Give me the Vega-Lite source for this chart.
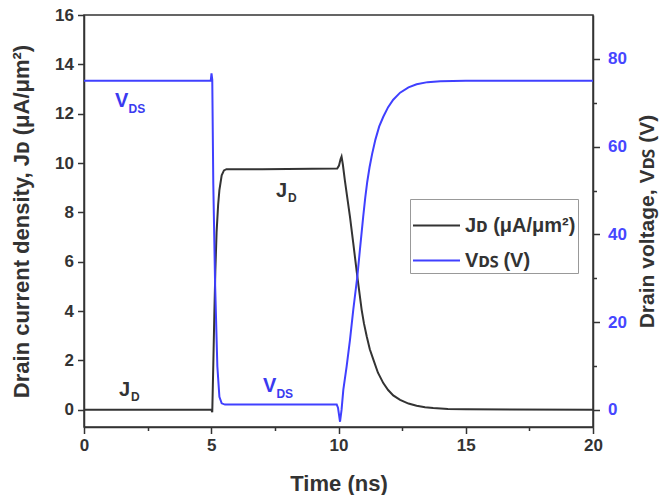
{
  "$schema": "https://vega.github.io/schema/vega-lite/v6.json",
  "width": 509,
  "height": 412,
  "autosize": {"type": "none"},
  "padding": {"left": 84, "top": 15, "right": 66, "bottom": 68},
  "background": "white",
  "config": {
    "view": {"stroke": "#333", "strokeWidth": 1.5},
    "font": "Liberation Sans",
    "axis": {
      "grid": false,
      "domainColor": "#333",
      "domainWidth": 1.5,
      "tickColor": "#333",
      "tickWidth": 1.5,
      "labelFont": "Liberation Sans",
      "labelFontWeight": "bold",
      "labelFontSize": 17,
      "labelColor": "#333",
      "labelPadding": 4,
      "labelOverlap": false,
      "labelFlush": false,
      "titleFont": "Liberation Sans",
      "titleFontWeight": "bold",
      "titleFontSize": 22,
      "titleColor": "#333"
    }
  },
  "datasets": {
    "jd": [
      {"t": 0, "j": 0}, {"t": 5.0, "j": 0}, {"t": 5.04, "j": -0.1}, {"t": 5.08, "j": 1.8},
      {"t": 5.12, "j": 3.8}, {"t": 5.16, "j": 5.6}, {"t": 5.21, "j": 7.2}, {"t": 5.27, "j": 8.3},
      {"t": 5.32, "j": 8.9}, {"t": 5.41, "j": 9.5}, {"t": 5.5, "j": 9.7}, {"t": 5.6, "j": 9.75},
      {"t": 7.0, "j": 9.75}, {"t": 9.95, "j": 9.78}, {"t": 10.02, "j": 9.9}, {"t": 10.08, "j": 10.15},
      {"t": 10.12, "j": 10.26}, {"t": 10.17, "j": 9.95}, {"t": 10.25, "j": 9.3}, {"t": 10.32, "j": 8.78},
      {"t": 10.45, "j": 7.83}, {"t": 10.58, "j": 6.75}, {"t": 10.74, "j": 5.4}, {"t": 10.91, "j": 4.05},
      {"t": 11.0, "j": 3.5}, {"t": 11.11, "j": 2.97}, {"t": 11.23, "j": 2.45}, {"t": 11.37, "j": 2.03},
      {"t": 11.55, "j": 1.5}, {"t": 11.76, "j": 1.08}, {"t": 11.95, "j": 0.8}, {"t": 12.15, "j": 0.58},
      {"t": 12.42, "j": 0.4}, {"t": 12.75, "j": 0.25}, {"t": 13.07, "j": 0.16}, {"t": 13.4, "j": 0.1},
      {"t": 13.72, "j": 0.07}, {"t": 14.3, "j": 0.03}, {"t": 15.0, "j": 0.015}, {"t": 20.0, "j": 0}
    ],
    "vds": [
      {"t": 0, "v": 75}, {"t": 4.98, "v": 75}, {"t": 5.01, "v": 76.7}, {"t": 5.04, "v": 75.2},
      {"t": 5.08, "v": 51.6}, {"t": 5.15, "v": 28.9}, {"t": 5.24, "v": 9.9}, {"t": 5.32, "v": 3.0},
      {"t": 5.41, "v": 1.5}, {"t": 5.54, "v": 1.2}, {"t": 7.0, "v": 1.2}, {"t": 9.93, "v": 1.2},
      {"t": 9.98, "v": 0.5}, {"t": 10.06, "v": -2.7}, {"t": 10.12, "v": 0}, {"t": 10.19, "v": 4.6},
      {"t": 10.32, "v": 9.9}, {"t": 10.45, "v": 15.9}, {"t": 10.58, "v": 22.8}, {"t": 10.74, "v": 30.4},
      {"t": 10.84, "v": 36.4}, {"t": 10.97, "v": 44}, {"t": 11.05, "v": 48.3}, {"t": 11.13, "v": 52.0},
      {"t": 11.22, "v": 55.3}, {"t": 11.32, "v": 58.3}, {"t": 11.45, "v": 61.6}, {"t": 11.6, "v": 64.6},
      {"t": 11.76, "v": 66.8}, {"t": 11.95, "v": 69.0}, {"t": 12.15, "v": 70.7}, {"t": 12.42, "v": 72.3},
      {"t": 12.75, "v": 73.5}, {"t": 13.07, "v": 74.2}, {"t": 13.5, "v": 74.7}, {"t": 14.0, "v": 74.9},
      {"t": 15.0, "v": 75}, {"t": 20.0, "v": 75}
    ],
    "ann": [
      {"series": "V", "t": 1.22, "j": 12.28, "main": "V", "sub": "DS"},
      {"series": "V", "t": 7.03, "j": 0.73, "main": "V", "sub": "DS"},
      {"series": "J", "t": 1.38, "j": 0.57, "main": "J", "sub": "D"},
      {"series": "J", "t": 7.54, "j": 8.63, "main": "J", "sub": "D"}
    ]
  },
  "layer": [
    {
      "layer": [
        {
          "data": {"name": "jd"},
          "mark": {"type": "line", "strokeWidth": 2},
          "encoding": {
            "x": {
              "field": "t", "type": "quantitative",
              "scale": {"domain": [0, 20], "nice": false, "zero": false},
              "axis": {
                "values": [0, 2.5, 5, 7.5, 10, 12.5, 15, 17.5, 20],
                "labelExpr": "datum.value % 5 === 0 ? datum.label : ''",
                "tickSize": {"condition": {"test": "datum.value % 5 !== 0", "value": 3.5}, "value": 6.5},
                "title": "Time (ns)",
                "titlePadding": 20
              }
            },
            "y": {
              "field": "j", "type": "quantitative",
              "scale": {"domain": [-0.7, 16], "nice": false, "zero": false},
              "axis": {
                "values": [0, 1, 2, 3, 4, 5, 6, 7, 8, 9, 10, 11, 12, 13, 14, 15, 16],
                "labelExpr": "datum.value % 2 === 0 ? datum.label : ''",
                "tickSize": {"condition": {"test": "datum.value % 2 !== 0", "value": 3.5}, "value": 6.5},
                "title": "Drain current density, Jᴅ (μA/μm²)",
                "titlePadding": 21
              }
            },
            "color": {
              "datum": "Jᴅ (μA/μm²)",
              "type": "nominal",
              "scale": {"domain": ["Jᴅ (μA/μm²)", "Vᴅꜱ (V)"], "range": ["#333333", "#4040ff"]},
              "legend": {
                "orient": "none",
                "legendX": 326,
                "legendY": 184,
                "title": null,
                "symbolType": "stroke",
                "symbolSize": 2209,
                "symbolStrokeWidth": 2,
                "labelFont": "Liberation Sans",
                "labelFontSize": 20,
                "labelFontWeight": "bold",
                "labelColor": "#333",
                "labelLimit": 400,
                "labelOffset": 4,
                "rowPadding": -13,
                "padding": 2,
                "strokeColor": "#999",
                "fillColor": "white"
              }
            }
          }
        },
        {
          "data": {"name": "ann"},
          "transform": [{"filter": "datum.series === 'J'"}],
          "mark": {"type": "text", "align": "left", "baseline": "alphabetic", "font": "Liberation Sans", "fontWeight": "bold", "fontSize": 20, "color": "#333"},
          "encoding": {
            "x": {"field": "t", "type": "quantitative"},
            "y": {"field": "j", "type": "quantitative"},
            "text": {"field": "main"}
          }
        },
        {
          "data": {"name": "ann"},
          "transform": [{"filter": "datum.series === 'J'"}],
          "mark": {"type": "text", "align": "left", "baseline": "alphabetic", "font": "Liberation Sans", "fontWeight": "bold", "fontSize": 12, "color": "#333", "dx": 12, "dy": 5},
          "encoding": {
            "x": {"field": "t", "type": "quantitative"},
            "y": {"field": "j", "type": "quantitative"},
            "text": {"field": "sub"}
          }
        },
        {
          "data": {"name": "ann"},
          "transform": [{"filter": "datum.series === 'V'"}],
          "mark": {"type": "text", "align": "left", "baseline": "alphabetic", "font": "Liberation Sans", "fontWeight": "bold", "fontSize": 20, "color": "#3a3af0"},
          "encoding": {
            "x": {"field": "t", "type": "quantitative"},
            "y": {"field": "j", "type": "quantitative"},
            "text": {"field": "main"}
          }
        },
        {
          "data": {"name": "ann"},
          "transform": [{"filter": "datum.series === 'V'"}],
          "mark": {"type": "text", "align": "left", "baseline": "alphabetic", "font": "Liberation Sans", "fontWeight": "bold", "fontSize": 12, "color": "#3a3af0", "dx": 13.5, "dy": 6},
          "encoding": {
            "x": {"field": "t", "type": "quantitative"},
            "y": {"field": "j", "type": "quantitative"},
            "text": {"field": "sub"}
          }
        }
      ]
    },
    {
      "data": {"name": "vds"},
      "mark": {"type": "line", "strokeWidth": 2},
      "encoding": {
        "x": {"field": "t", "type": "quantitative"},
        "y": {
          "field": "v", "type": "quantitative",
          "scale": {"domain": [-3.9, 90], "nice": false, "zero": false},
          "axis": {
            "orient": "right",
            "values": [0, 10, 20, 30, 40, 50, 60, 70, 80],
            "labelExpr": "datum.value % 20 === 0 ? datum.label : ''",
            "tickSize": {"condition": {"test": "datum.value % 20 !== 0", "value": 3.5}, "value": 6.5},
            "labelColor": "#4646ff",
            "labelPadding": 8,
            "title": "Drain voltage, Vᴅꜱ (V)",
            "titleFontSize": 21,
            "titleAngle": 270,
            "titleBaseline": "top",
            "titlePadding": 10
          }
        },
        "color": {"datum": "Vᴅꜱ (V)", "type": "nominal"}
      }
    }
  ],
  "resolve": {"scale": {"y": "independent"}}
}
